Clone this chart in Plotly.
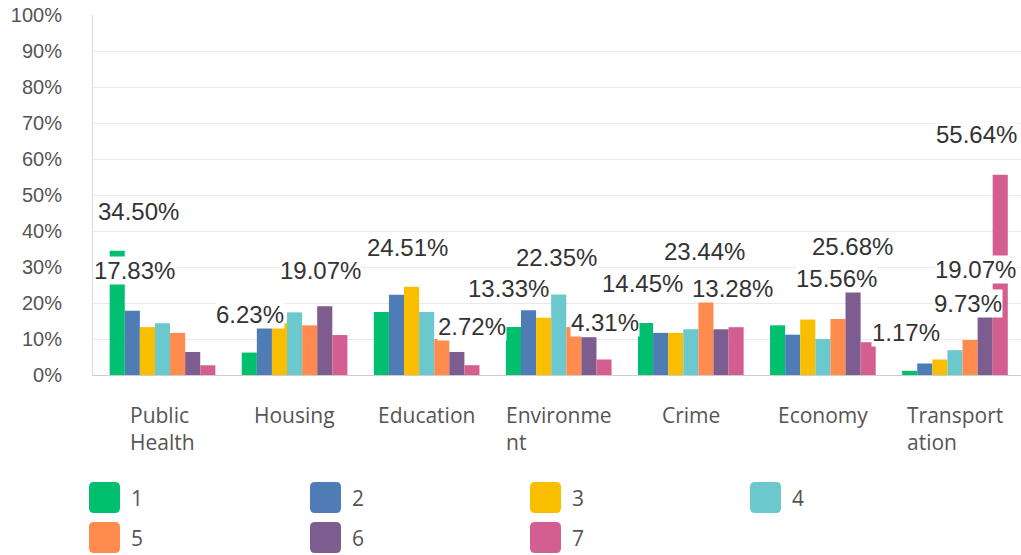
import plotly.graph_objects as go

# ---------------- data ----------------
categories = ["Public Health", "Housing", "Education", "Environment", "Crime", "Economy", "Transportation"]
category_labels = ["Public<br>Health", "Housing", "Education", "Environme<br>nt", "Crime", "Economy", "Transport<br>ation"]
series_names = ["1", "2", "3", "4", "5", "6", "7"]

s1 = [34.50, 6.23, 17.5, 13.33, 14.45, 13.8, 1.17]
s2 = [17.83, 14.4, 22.3, 18.0, 11.7, 11.2, 3.2]
s3 = [13.3, 14.4, 24.51, 15.9, 11.7, 15.4, 4.3]
s4 = [14.4, 17.4, 17.5, 22.35, 12.7, 10.0, 6.9]
s5 = [11.7, 13.8, 10.0, 13.3, 21.2, 15.56, 9.73]
s6 = [6.4, 19.07, 6.4, 10.5, 12.7, 23.8, 17.5]
s7 = [2.7, 11.1, 2.72, 4.31, 13.28, 9.1, 55.64]
series_values = [s1, s2, s3, s4, s5, s6, s7]

y_ticks = [0, 10, 20, 30, 40, 50, 60, 70, 80, 90, 100]

label_categories = ["Public Health", "Public Health", "Housing", "Housing", "Education", "Education",
                    "Environment", "Environment", "Environment", "Crime", "Crime", "Crime",
                    "Economy", "Economy", "Transportation", "Transportation", "Transportation", "Transportation"]
label_texts = ["34.50%", "17.83%", "6.23%", "19.07%", "24.51%", "2.72%",
               "13.33%", "22.35%", "4.31%", "14.45%", "23.44%", "13.28%",
               "25.68%", "15.56%", "1.17%", "19.07%", "9.73%", "55.64%"]

# ---------------- styles / placement ----------------
colors = ["#00BF6F", "#507CB6", "#F9BE00", "#6BC8CD", "#FF8B4F", "#7D5C8F", "#D25F90"]
# (x offset in px from group centre, vertical position in axis units)
label_place = [(-24, 45.3), (-28, 28.9), (-45, 16.7), (26, 28.9), (-19, 35.4), (45, 13.6),
               (-50, 23.9), (-2, 32.6), (46, 14.7), (-48, 25.3), (14, 34.4), (42, 23.9),
               (30, 35.6), (14, 26.7), (-49, 11.8), (21, 29.4), (13, 19.9), (22, 66.7)]

NUM_FONT = "Liberation Sans, Arial, sans-serif"
CAT_FONT = "Open Sans, Roboto, sans-serif"

fig = go.Figure()
for name, vals, col in zip(series_names, series_values, colors):
    fig.add_trace(go.Bar(x=categories, y=vals, name=name, marker=dict(color=col, line=dict(width=0)),
                         showlegend=False, hoverinfo="x+y+name"))

annotations = []
for cat, txt, (dx, yv) in zip(label_categories, label_texts, label_place):
    annotations.append(dict(x=cat, y=yv, xref="x", yref="y", text=txt, showarrow=False,
                            xshift=dx, xanchor="center", yanchor="middle",
                            font=dict(family=NUM_FONT, size=24, color="#333333"),
                            bgcolor="white", borderpad=0))

for cat, lab in zip(categories, category_labels):
    annotations.append(dict(x=cat, y=0, xref="x", yref="paper", text=lab, showarrow=False,
                            yshift=-24, xanchor="center", yanchor="top", align="left",
                            font=dict(family=CAT_FONT, size=21, color="#555555")))

shapes = []
col_x = [-4, 217, 437, 657]
row_y = [-107, -147]
sw = 31
r = 5
for i, (name, col) in enumerate(zip(series_names, colors)):
    x0 = col_x[i % 4]
    ytop = row_y[i // 4]
    x1 = x0 + sw
    ybot = ytop - sw
    path = (f"M{x0+r},{ytop} L{x1-r},{ytop} Q{x1},{ytop} {x1},{ytop-r} L{x1},{ybot+r} "
            f"Q{x1},{ybot} {x1-r},{ybot} L{x0+r},{ybot} Q{x0},{ybot} {x0},{ybot+r} "
            f"L{x0},{ytop-r} Q{x0},{ytop} {x0+r},{ytop} Z")
    shapes.append(dict(type="path", xref="paper", yref="paper", xsizemode="pixel", ysizemode="pixel",
                       xanchor=0, yanchor=0, path=path, fillcolor=col, line=dict(width=0)))
    annotations.append(dict(x=0, y=0, xref="paper", yref="paper", text=name, showarrow=False,
                            xshift=x1 + 9, yshift=ytop - sw / 2, xanchor="left", yanchor="middle",
                            font=dict(family=CAT_FONT, size=21, color="#555555")))

fig.update_layout(
    width=1021, height=555,
    margin=dict(l=93, r=0, t=15, b=180, autoexpand=False),
    paper_bgcolor="white", plot_bgcolor="white",
    barmode="group", bargap=0.2, bargroupgap=0,
    annotations=annotations, shapes=shapes,
    xaxis=dict(showticklabels=False, showgrid=False, showline=True, linecolor="#cccccc",
               linewidth=1, ticks="", zeroline=False, fixedrange=True, automargin=False),
    yaxis=dict(range=[0, 100], tickvals=y_ticks, ticktext=[f"{v}%" for v in y_ticks],
               showgrid=True, gridcolor="#e9e9e9", gridwidth=1, zeroline=False,
               showline=True, linecolor="#dddddd", linewidth=1, automargin=False,
               ticks="", ticklabelstandoff=26, ticklabeloverflow="allow",
               tickfont=dict(family=NUM_FONT, size=20, color="#555555"), fixedrange=True),
    showlegend=False,
)

# remove the browser's default 8px page margin so the figure fills the window exactly
fig.write_html("out.html",
               config={"displayModeBar": False},
               post_script="document.body.style.margin='0';document.body.style.overflow='hidden';")
